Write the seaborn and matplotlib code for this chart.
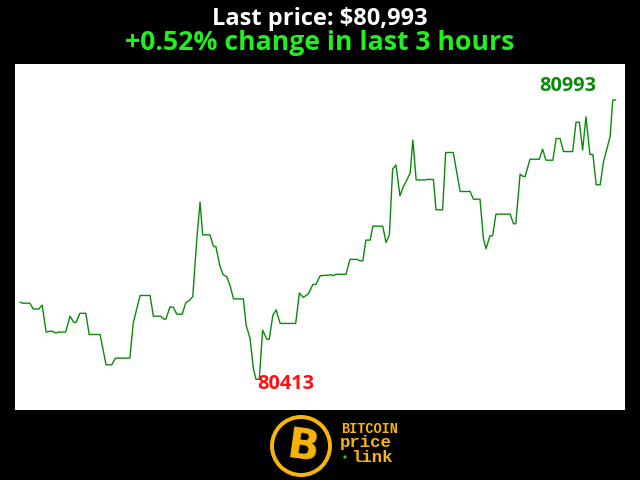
import matplotlib
matplotlib.use("Agg")
import matplotlib.pyplot as plt
from matplotlib.patches import Circle
import seaborn as sns
import pandas as pd

# minutes since start of the 3-hour window
minutes = [0.0, 1.0, 3.0, 4.0, 5.7, 6.7, 7.9, 9.1, 10.1, 10.8, 11.6, 13.8, 15.1, 16.3, 16.9,
           18.1, 19.9, 20.9, 24.2, 26.0, 27.7, 28.9, 33.2, 34.2, 35.3, 36.3, 39.3, 40.3, 42.5,
           43.5, 44.1, 45.3, 46.3, 47.4, 49.0, 50.1, 51.1, 52.2, 53.4, 54.4, 55.2, 57.4, 58.4,
           59.2, 60.4, 61.4, 62.5, 63.5, 64.5, 67.5, 68.3, 69.5, 70.5, 71.3, 72.3, 73.3, 74.6,
           75.3, 76.4, 77.4, 78.6, 83.3, 84.4, 85.6, 87.1, 88.5, 89.4, 90.7, 94.2, 94.7, 95.4,
           98.5, 99.7, 101.9, 102.7, 103.6, 104.5, 105.8, 106.6, 109.6, 110.6, 111.6, 112.6,
           113.6, 114.8, 115.8, 116.9, 117.9, 118.7, 119.7, 122.4, 122.9, 124.9, 125.7, 127.7,
           128.6, 130.9, 133.0, 136.0, 137.0, 139.0, 140.0, 140.8, 142.0, 142.8, 143.8, 148.1,
           149.1, 149.8, 151.1, 152.1, 152.6, 154.1, 156.9, 157.9, 158.9, 161.0, 162.0, 163.2,
           164.2, 167.0, 168.0, 169.0, 170.0, 171.0, 172.2, 173.1, 174.1, 175.3, 176.3, 178.3,
           179.1, 180.0]
prices = [80573, 80571, 80571, 80559, 80559, 80567, 80511, 80513, 80512, 80509, 80511, 80511,
          80544, 80531, 80531, 80550, 80550, 80506, 80506, 80443, 80443, 80457, 80457, 80529,
          80560, 80587, 80587, 80544, 80544, 80538, 80538, 80563, 80563, 80548, 80548, 80572,
          80576, 80585, 80702, 80781, 80713, 80713, 80690, 80688, 80648, 80630, 80626, 80607,
          80580, 80580, 80526, 80498, 80436, 80413, 80413, 80515, 80496, 80496, 80546, 80557,
          80529, 80529, 80592, 80583, 80590, 80610, 80610, 80628, 80630, 80628, 80631, 80631,
          80662, 80662, 80659, 80659, 80702, 80702, 80731, 80731, 80697, 80713, 80850, 80858,
          80794, 80813, 80827, 80842, 80910, 80827, 80827, 80828, 80828, 80765, 80765, 80884,
          80884, 80803, 80803, 80787, 80787, 80706, 80684, 80711, 80711, 80756, 80756, 80736,
          80736, 80839, 80834, 80834, 80870, 80870, 80891, 80868, 80868, 80913, 80913, 80886,
          80886, 80947, 80947, 80889, 80958, 80880, 80880, 80817, 80817, 80865, 80917, 80993,
          80993]

title_line1 = "Last price: $80,993"
title_line2 = "+0.52% change in last 3 hours"
logo_words = ["BITCOIN", "price", "link"]

df = pd.DataFrame({"minute": minutes, "price": prices})

sns.set_theme(style="white")
plt.rcParams["font.family"] = ["Open Sans", "DejaVu Sans"]

fig = plt.figure(figsize=(6.4, 4.8), dpi=100, facecolor="black")
ax = fig.add_axes([15 / 640, 70 / 480, 610 / 640, 346 / 480])
ax.set_facecolor("white")

sns.lineplot(data=df, x="minute", y="price", ax=ax, color="#0a8a0a", linewidth=1.0)

ax.set_xlim(-1.51, 182.8)
ax.set_ylim(80349.2, 81067.8)
ax.set_xticks([])
ax.set_yticks([])
ax.set_xlabel("")
ax.set_ylabel("")
for s in ax.spines.values():
    s.set_visible(False)

# min / max annotations
imax = max(range(len(prices)), key=lambda i: prices[i])
imin = min(range(len(prices)), key=lambda i: prices[i])
ax.annotate(str(prices[imax]), (minutes[imax], prices[imax]), xytext=(-17, 9),
            textcoords="offset pixels", ha="right", va="baseline",
            color="#0a8a0a", fontsize=14.3, fontweight="bold")
ax.annotate(str(prices[imin]), (minutes[imin], prices[imin]), xytext=(1, -5),
            textcoords="offset pixels", ha="left", va="center",
            color="#ff1010", fontsize=14.3, fontweight="bold")

fig.text(0.5, 1 - 25 / 480, title_line1, color="white", ha="center", va="baseline",
         fontsize=17, fontweight="bold")
fig.text(0.5, 1 - 50 / 480, title_line2, color="#22ee22", ha="center", va="baseline",
         fontsize=19.2, fontweight="bold")

# logo
gold = "#f5b50a"
lax = fig.add_axes([0, 0, 1, 70 / 480])
lax.set_xlim(0, 640)
lax.set_ylim(70, 0)
lax.axis("off")
lax.add_patch(Circle((301, 36), 31, facecolor=gold, edgecolor="none"))
lax.add_patch(Circle((301, 36), 27, facecolor="black", edgecolor="none"))
lax.text(303, 37, "B", color=gold, fontsize=30, fontweight="bold", ha="center", va="center",
         family="DejaVu Sans", rotation=-8)
lax.text(341, 19, logo_words[0], color=gold, fontsize=9.8, fontweight="bold",
         family="Liberation Mono", ha="left", va="center")
lax.text(340, 32, logo_words[1], color=gold, fontsize=12.5, fontweight="bold",
         family="Liberation Mono", ha="left", va="center")
lax.text(351, 47, logo_words[2], color=gold, fontsize=12.5, fontweight="bold",
         family="Liberation Mono", ha="left", va="center")
lax.add_patch(Circle((345, 47), 1.6, facecolor="#22cc22", edgecolor="none"))

fig.savefig("out.png", dpi=100, facecolor="black")
